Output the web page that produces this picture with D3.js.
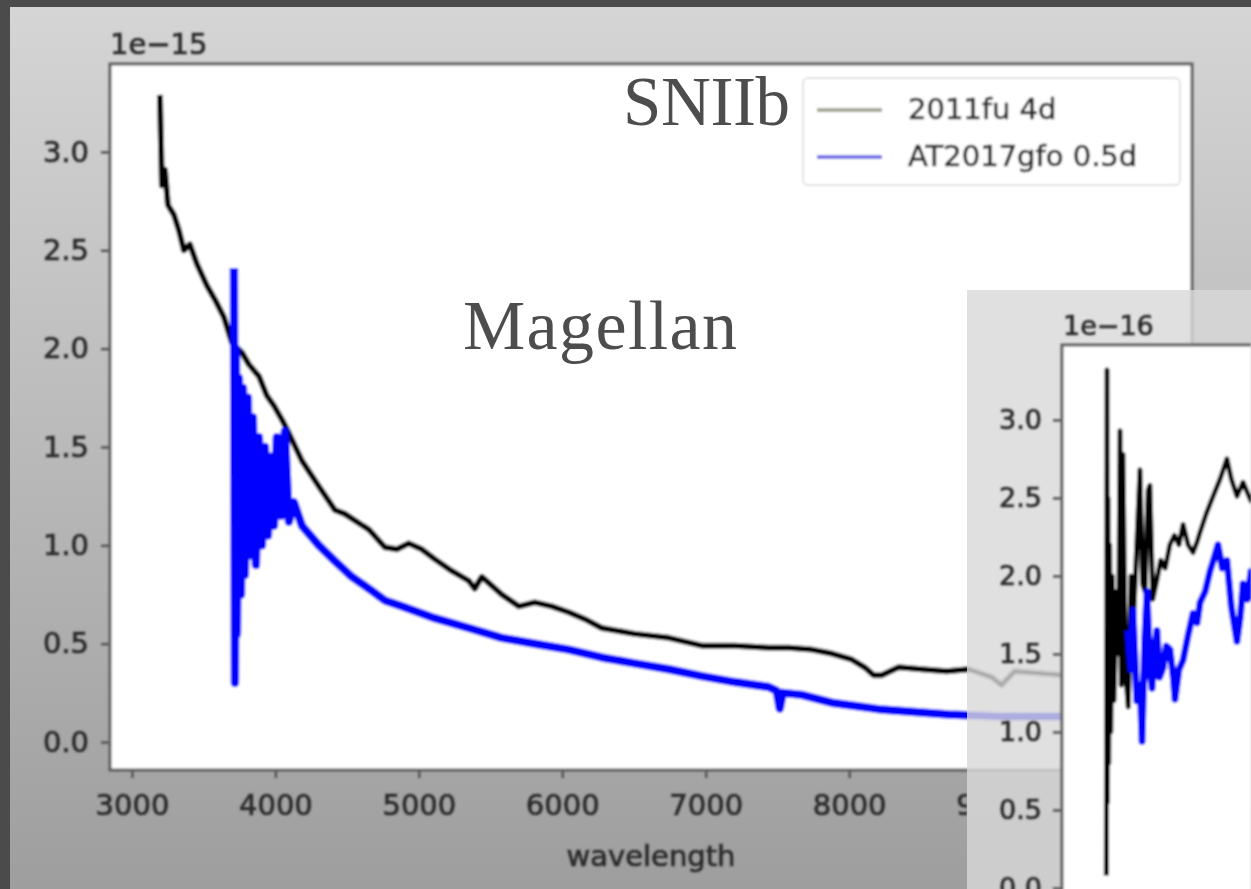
<!DOCTYPE html>
<html>
<head>
<meta charset="utf-8">
<script src="https://cdn.jsdelivr.net/npm/d3@7"></script>
<style>
  html, body { margin: 0; padding: 0; background: #4b4b4b; overflow: hidden; }
  svg { display: block; }
  .mpl text { font-family: "DejaVu Sans", sans-serif; fill: #2b2b2b; stroke: #2b2b2b; stroke-width: 0.7px; }
  .overlay { font-family: "Liberation Serif", serif; fill: #4d4d4d; }
</style>
</head>
<body>
<div id="chart"></div>
<script>
// ---- data (flux in units of the axis offset) ----
let mainXTicks = [3000, 4000, 5000, 6000, 7000, 8000, 9000];
let mainYTicks = [0.0, 0.5, 1.0, 1.5, 2.0, 2.5, 3.0];
let insetYTicks = [0.0, 0.5, 1.0, 1.5, 2.0, 2.5, 3.0];
let seriesNames = ["2011fu 4d", "AT2017gfo 0.5d"];

// main panel, SN 2011fu 4d (black)
let sn2011fu = [
    [3195, 3.29], [3209, 2.83], [3230, 2.91], [3251, 2.73], [3293, 2.68], [3328, 2.60],
    [3362, 2.50], [3404, 2.53], [3453, 2.43], [3523, 2.32], [3578, 2.25], [3641, 2.16],
    [3697, 2.03], [3767, 1.98], [3815, 1.92], [3885, 1.86], [3941, 1.76], [3990, 1.71],
    [4045, 1.64], [4094, 1.57], [4185, 1.43], [4303, 1.30], [4415, 1.18], [4484, 1.16],
    [4652, 1.08], [4763, 0.99], [4847, 0.98], [4930, 1.01], [5021, 0.98], [5111, 0.93],
    [5230, 0.87], [5348, 0.82], [5390, 0.78], [5439, 0.84], [5578, 0.75], [5697, 0.69],
    [5808, 0.71], [5927, 0.69], [6045, 0.66], [6171, 0.62], [6275, 0.58], [6505, 0.55],
    [6742, 0.53], [6972, 0.49], [7202, 0.49], [7439, 0.48], [7578, 0.48], [7739, 0.47],
    [7878, 0.45], [8017, 0.42], [8108, 0.38], [8171, 0.34], [8226, 0.34], [8345, 0.38],
    [8505, 0.37], [8679, 0.36], [8833, 0.37], [8993, 0.33], [9063, 0.29], [9153, 0.36],
    [9500, 0.34], [10000, 0.32]
];

// main panel, AT2017gfo 0.5d (blue)
let at2017gfo = [
    [3711, 2.41], [3718, 0.30], [3725, 2.00], [3732, 0.55], [3746, 1.85], [3760, 0.75],
    [3774, 1.80], [3787, 0.85], [3808, 1.75], [3822, 0.95], [3843, 1.65], [3864, 0.90],
    [3885, 1.55], [3906, 1.00], [3927, 1.50], [3948, 1.05], [3969, 1.45], [3990, 1.10],
    [4010, 1.55], [4038, 1.15], [4066, 1.58], [4094, 1.12], [4129, 1.22], [4185, 1.10],
    [4303, 1.00], [4415, 0.92], [4533, 0.84], [4652, 0.78], [4763, 0.72], [4882, 0.69],
    [5111, 0.63], [5348, 0.58], [5578, 0.53], [5808, 0.50], [6045, 0.47], [6275, 0.43],
    [6505, 0.40], [6742, 0.37], [6972, 0.335], [7202, 0.305], [7439, 0.28], [7495, 0.26],
    [7516, 0.17], [7537, 0.25], [7669, 0.24], [7878, 0.20], [8226, 0.165], [8693, 0.14],
    [9063, 0.13], [9481, 0.13], [10030, 0.10]
];

// inset panel (1e-16), only its left part is on the slide
let insetBlack = [
    [3203, 0.08], [3209, 3.32], [3213, 0.55], [3218, 2.50], [3224, 0.80], [3232, 2.20],
    [3242, 1.00], [3255, 2.00], [3270, 1.20], [3290, 1.90], [3310, 1.50], [3323, 2.93],
    [3334, 1.30], [3349, 2.78], [3370, 1.40], [3395, 1.16], [3420, 2.00], [3440, 1.70],
    [3470, 2.20], [3498, 2.68], [3520, 1.95], [3542, 1.90], [3570, 2.55], [3585, 2.58],
    [3610, 1.85], [3640, 1.95], [3680, 2.10], [3720, 2.05], [3760, 2.20], [3800, 2.26],
    [3840, 2.20], [3876, 2.33], [3920, 2.20], [3963, 2.15], [4000, 2.22], [4025, 2.28],
    [4080, 2.40], [4139, 2.51], [4200, 2.62], [4261, 2.75], [4300, 2.62], [4349, 2.51],
    [4402, 2.60], [4472, 2.48], [4520, 2.55]
];
let insetBlue = [
    [3393, 1.65], [3420, 1.40], [3437, 1.78], [3470, 1.20], [3500, 1.30], [3516, 0.94],
    [3540, 1.60], [3560, 1.90], [3585, 1.40], [3604, 1.28], [3625, 1.50], [3647, 1.65],
    [3670, 1.35], [3700, 1.41], [3730, 1.55], [3761, 1.53], [3790, 1.35], [3805, 1.21],
    [3840, 1.40], [3876, 1.46], [3920, 1.62], [3963, 1.76], [4000, 1.70], [4025, 1.83],
    [4070, 1.90], [4112, 2.03], [4150, 2.12], [4182, 2.20], [4220, 2.05], [4261, 2.10],
    [4300, 1.80], [4349, 1.58], [4380, 1.75], [4402, 1.95], [4440, 1.85], [4472, 2.03],
    [4520, 1.90]
];

let W = 1251, H = 889;
let insetX = 967, insetY = 290;

let svg = d3.select("#chart").append("svg")
    .attr("width", W)
    .attr("height", H);

let defs = svg.append("defs");

let bgGrad = defs.append("linearGradient").attr("id", "mainBg")
    .attr("x1", 0).attr("y1", 0).attr("x2", 0).attr("y2", 1);
bgGrad.append("stop").attr("offset", "0%").attr("stop-color", "#d5d5d5");
bgGrad.append("stop").attr("offset", "100%").attr("stop-color", "#9e9e9e");

defs.append("filter").attr("id", "soft")
    .attr("x", "-5%").attr("y", "-5%").attr("width", "110%").attr("height", "110%")
    .append("feGaussianBlur").attr("stdDeviation", 0.9);

// the part of the main x axis that the inset screenshot does not cover
defs.append("clipPath").attr("id", "axisClip")
    .append("rect")
    .attr("x", 0).attr("y", 0)
    .attr("width", insetX).attr("height", H);

// slide background + screenshot of the main figure
svg.append("rect").attr("width", W).attr("height", H).attr("fill", "#4b4b4b");
svg.append("rect")
    .attr("x", 10).attr("y", 7)
    .attr("width", W - 10).attr("height", H - 7)
    .attr("fill", "url(#mainBg)");

// ---------------- main panel ----------------
let box = {left: 110, top: 64, right: 1192, bottom: 770};

let xScale = d3.scaleLinear().domain([2847, 10390]).range([box.left, box.right]);
let yScale = d3.scaleLinear().domain([-0.142, 3.447]).range([box.bottom, box.top]);

let mpl = svg.append("g").attr("class", "mpl").attr("filter", "url(#soft)");

mpl.append("rect")
    .attr("x", box.left).attr("y", box.top)
    .attr("width", box.right - box.left).attr("height", box.bottom - box.top)
    .attr("fill", "#fff");

defs.append("clipPath").attr("id", "mainClip")
    .append("rect")
    .attr("x", box.left).attr("y", box.top)
    .attr("width", box.right - box.left).attr("height", box.bottom - box.top);

let line = d3.line()
    .x((d) => xScale(d[0]))
    .y((d) => yScale(d[1]));

let lines = mpl.append("g").attr("clip-path", "url(#mainClip)");

lines.append("path")
    .datum(sn2011fu)
    .attr("d", line)
    .attr("fill", "none")
    .attr("stroke", "#000")
    .attr("stroke-width", 6)
    .attr("stroke-linejoin", "round");

lines.append("path")
    .datum(at2017gfo)
    .attr("d", line)
    .attr("fill", "none")
    .attr("stroke", "#0000ff")
    .attr("stroke-width", 8.5)
    .attr("stroke-linejoin", "round");

let xAxis = mpl.append("g")
    .attr("clip-path", "url(#axisClip)")
    .append("g")
    .attr("transform", "translate(0," + box.bottom + ")")
    .call(d3.axisBottom(xScale).tickValues(mainXTicks).tickFormat(d3.format("d"))
        .tickSize(8).tickPadding(16));

let yAxis = mpl.append("g")
    .attr("transform", "translate(" + box.left + ",0)")
    .call(d3.axisLeft(yScale).tickValues(mainYTicks).tickFormat(d3.format(".1f"))
        .tickSize(9).tickPadding(12));

[xAxis, yAxis].forEach((ax) => {
    ax.select(".domain").remove();
    ax.selectAll(".tick line").attr("stroke", "#555").attr("stroke-width", 2.5);
    ax.selectAll(".tick text").attr("font-size", 29);
});

mpl.append("rect")
    .attr("x", box.left).attr("y", box.top)
    .attr("width", box.right - box.left).attr("height", box.bottom - box.top)
    .attr("fill", "none")
    .attr("stroke", "#5e5e5e")
    .attr("stroke-width", 3);

mpl.append("text")
    .attr("x", box.left).attr("y", 54)
    .attr("font-size", 29)
    .text("1e\u221215");

mpl.append("text")
    .attr("x", (box.left + box.right) / 2).attr("y", 866)
    .attr("text-anchor", "middle")
    .attr("font-size", 29)
    .text("wavelength");

// legend
let legend = mpl.append("g");
legend.append("rect")
    .attr("x", 803).attr("y", 78)
    .attr("width", 377).attr("height", 107)
    .attr("rx", 5)
    .attr("fill", "#fff")
    .attr("stroke", "#d9d9d9")
    .attr("stroke-width", 1.5);

let legendColors = ["#a2a692", "#6f6fe6"];
seriesNames.forEach((name, i) => {
    let ly = 110 + i * 47;
    legend.append("line")
        .attr("x1", 817).attr("x2", 882)
        .attr("y1", ly).attr("y2", ly)
        .attr("stroke", legendColors[i])
        .attr("stroke-width", 4);
    legend.append("text")
        .attr("x", 908).attr("y", ly + 9)
        .attr("font-size", 29)
        .text(name);
});

// slide annotations
svg.append("text").attr("class", "overlay")
    .attr("x", 623).attr("y", 125)
    .attr("font-size", 69)
    .attr("textLength", 167)
    .text("SNIIb");

svg.append("text").attr("class", "overlay")
    .attr("x", 463).attr("y", 349)
    .attr("font-size", 70)
    .attr("textLength", 274)
    .text("Magellan");

// ---------------- inset panel ----------------
let ibox = {left: 1062, top: 345, right: 1251, bottom: 905};

let ixScale = d3.scaleLinear().domain([2814, 4472]).range([ibox.left, ibox.right]);
let iyScale = d3.scaleLinear().domain([-0.109, 3.48]).range([ibox.bottom, ibox.top]);

let inset = svg.append("g").attr("class", "mpl");

inset.append("rect")
    .attr("x", insetX).attr("y", insetY)
    .attr("width", W - insetX).attr("height", H - insetY)
    .attr("fill", "#d8d8d8")
    .attr("opacity", 0.8);

let iplot = inset.append("g").attr("filter", "url(#soft)");

iplot.append("rect")
    .attr("x", ibox.left).attr("y", ibox.top)
    .attr("width", ibox.right - ibox.left).attr("height", ibox.bottom - ibox.top)
    .attr("fill", "#fff");

defs.append("clipPath").attr("id", "insetClip")
    .append("rect")
    .attr("x", ibox.left).attr("y", ibox.top)
    .attr("width", ibox.right - ibox.left).attr("height", ibox.bottom - ibox.top);

let iline = d3.line()
    .x((d) => ixScale(d[0]))
    .y((d) => iyScale(d[1]));

let ilines = iplot.append("g").attr("clip-path", "url(#insetClip)");

ilines.append("path")
    .datum(insetBlack)
    .attr("d", iline)
    .attr("fill", "none")
    .attr("stroke", "#000")
    .attr("stroke-width", 5)
    .attr("stroke-linejoin", "round");

ilines.append("path")
    .datum(insetBlue)
    .attr("d", iline)
    .attr("fill", "none")
    .attr("stroke", "#0000ff")
    .attr("stroke-width", 7)
    .attr("stroke-linejoin", "round");

let iyAxis = iplot.append("g")
    .attr("transform", "translate(" + ibox.left + ",0)")
    .call(d3.axisLeft(iyScale).tickValues(insetYTicks).tickFormat(d3.format(".1f"))
        .tickSize(9).tickPadding(11));
iyAxis.select(".domain").remove();
iyAxis.selectAll(".tick line").attr("stroke", "#555").attr("stroke-width", 2.5);
iyAxis.selectAll(".tick text").attr("font-size", 27);

iplot.append("path")
    .attr("d", "M" + ibox.right + "," + ibox.top + "H" + ibox.left + "V" + ibox.bottom)
    .attr("fill", "none")
    .attr("stroke", "#5e5e5e")
    .attr("stroke-width", 3);

iplot.append("text")
    .attr("x", ibox.left + 1).attr("y", 335)
    .attr("font-size", 27)
    .text("1e\u221216");
</script>
</body>
</html>
